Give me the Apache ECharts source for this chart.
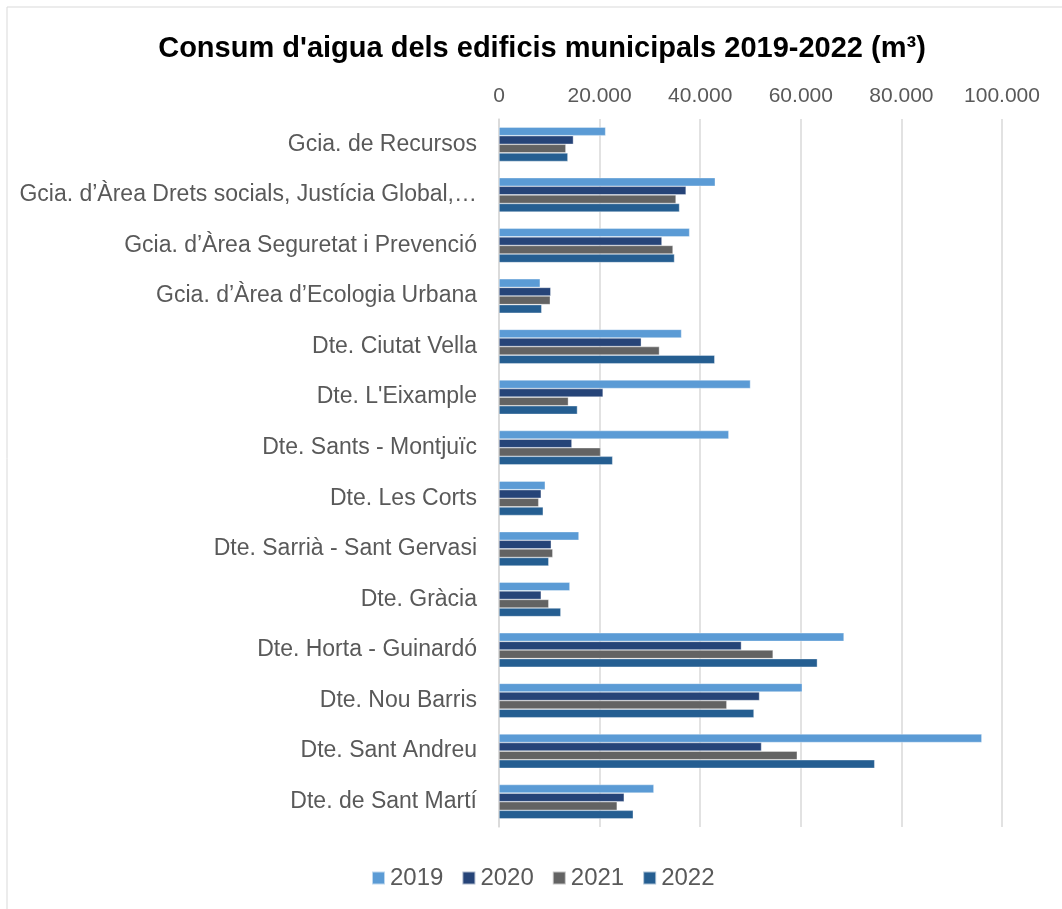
<!DOCTYPE html>
<html>
<head>
<meta charset="utf-8">
<script src="https://cdn.jsdelivr.net/npm/echarts@6/dist/echarts.min.js"></script>
<style>
  html, body { margin: 0; padding: 0; background: #fff; }
  #chart { width: 1062px; height: 909px; }
</style>
</head>
<body>
<div id="chart"></div>
<script>
// dades llegides del gràfic (m3)
var categories = [
    'Gcia. de Recursos',
    'Gcia. d\u2019Àrea Drets socials, Justícia Global, Feminismes i LGTBI',
    'Gcia. d\u2019Àrea Seguretat i Prevenció',
    'Gcia. d\u2019Àrea d\u2019Ecologia Urbana',
    'Dte. Ciutat Vella',
    'Dte. L\'Eixample',
    'Dte. Sants - Montjuïc',
    'Dte. Les Corts',
    'Dte. Sarrià - Sant Gervasi',
    'Dte. Gràcia',
    'Dte. Horta - Guinardó',
    'Dte. Nou Barris',
    'Dte. Sant Andreu',
    'Dte. de Sant Martí'
];
var years = ['2019', '2020', '2021', '2022'];
var values2019 = [21200, 43000, 37900, 8200, 36300, 50000, 45700, 9200, 15900, 14100, 68600, 60300, 96000, 30800];
var values2020 = [14800, 37200, 32400, 10300, 28300, 20700, 14500, 8400, 10400, 8400, 48200, 51800, 52200, 24900];
var values2021 = [13300, 35200, 34600, 10200, 31900, 13800, 20200, 7900, 10700, 9900, 54500, 45300, 59300, 23500];
var values2022 = [13700, 35900, 34900, 8500, 42900, 15600, 22600, 8800, 9900, 12300, 63300, 50700, 74700, 26700];
var xTicks = [0, 20000, 40000, 60000, 80000, 100000];

var myChart = echarts.init(document.getElementById('chart'));

function fmt(v) {
    // separador de milers amb punt
    return String(v).replace(/\B(?=(\d{3})+(?!\d))/g, '.');
}

var seriesData = [values2019, values2020, values2021, values2022];
var colors = ['#5b9bd5', '#264478', '#636363', '#255e91'];

var series = years.map(function (y, i) {
    return {
        name: y,
        type: 'bar',
        data: seriesData[i],
        barGap: '0%',
        barCategoryGap: '32%',
        itemStyle: {
            borderColor: 'rgba(255,255,255,0.6)',
            borderWidth: 0.6
        }
    };
});

var option = {
    backgroundColor: '#fff',
    color: colors,
    animation: false,
    textStyle: {
        fontFamily: 'Liberation Sans, Arial, sans-serif'
    },
    title: {
        text: 'Consum d\'aigua dels edificis municipals 2019-2022 (m\u00b3)',
        left: 537,
        textAlign: 'center',
        top: 29,
        textStyle: {
            fontSize: 29,
            fontWeight: 'bold',
            color: '#000',
            fontFamily: 'Liberation Sans, Arial, sans-serif'
        }
    },
    legend: {
        bottom: 14,
        left: 366,
        itemWidth: 13,
        itemHeight: 13,
        itemGap: 18,
        icon: 'rect',
        textStyle: {
            fontSize: 24,
            color: '#595959'
        },
        data: years
    },
    grid: {
        left: 499,
        right: 60,
        top: 119,
        bottom: 82,
        containLabel: false
    },
    xAxis: {
        type: 'value',
        position: 'top',
        min: 0,
        max: 100000,
        interval: 20000,
        axisLine: { show: false },
        axisTick: { show: false },
        axisLabel: {
            fontSize: 21,
            color: '#595959',
            margin: 12,
            formatter: function (v) {
                return xTicks.indexOf(v) >= 0 ? fmt(v) : '';
            }
        },
        splitLine: {
            lineStyle: { color: '#d9d9d9', width: 1.5 }
        }
    },
    yAxis: {
        type: 'category',
        inverse: true,
        data: categories,
        axisLine: {
            lineStyle: { color: '#d9d9d9', width: 1.5 }
        },
        axisTick: { show: false },
        axisLabel: {
            fontSize: 23,
            color: '#595959',
            margin: 22,
            // com a Excel, les etiquetes massa llargues es tallen
            formatter: function (v) {
                return v.length > 45 ? v.slice(0, 44) + '…' : v;
            }
        }
    },
    graphic: [
        {
            type: 'rect',
            shape: { x: 7, y: 7, width: 1100, height: 1000 },
            style: { fill: 'none', stroke: '#d9d9d9', lineWidth: 1 },
            silent: true
        }
    ],
    series: series
};

myChart.setOption(option);
</script>
</body>
</html>
